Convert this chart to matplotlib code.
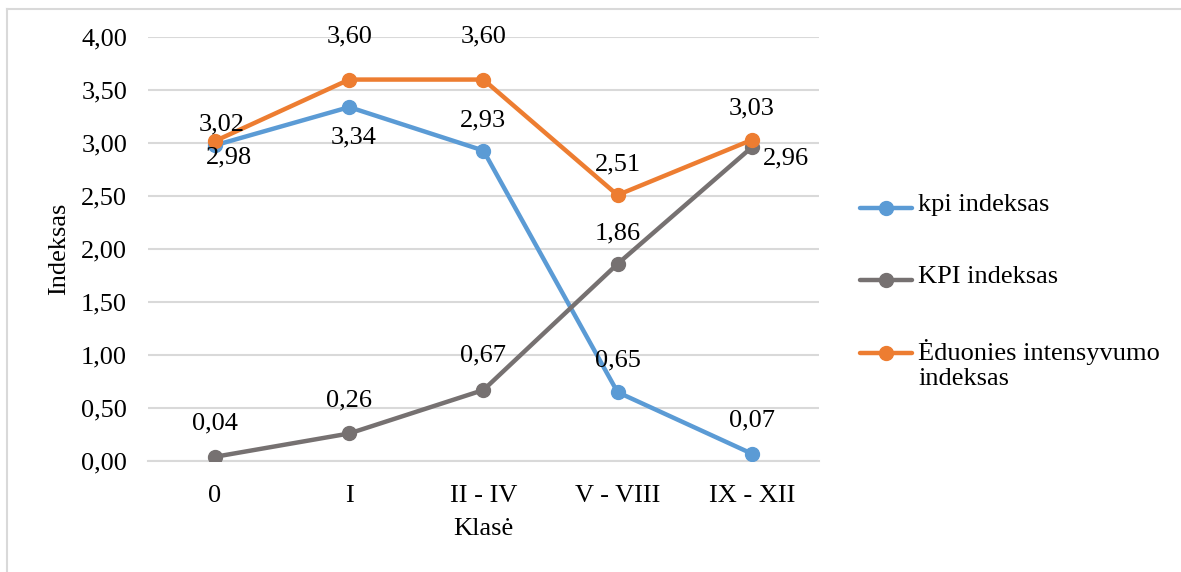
import matplotlib
matplotlib.use("Agg")
import matplotlib.pyplot as plt
from matplotlib.lines import Line2D

plt.rcParams['font.family'] = ['Liberation Serif', 'DejaVu Serif']

# data
classes = ["0", "I", "II - IV", "V - VIII", "IX - XII"]
kpi_small = [2.98, 3.34, 2.93, 0.65, 0.07]
kpi_big = [0.04, 0.26, 0.67, 1.86, 2.96]
eduonies = [3.02, 3.60, 3.60, 2.51, 3.03]
series_names = ["kpi indeksas", "KPI indeksas", "Ėduonies intensyvumo\nindeksas"]

_BLUE = "#5B9BD5"
_GRAY = "#767171"
_ORANGE = "#ED7D31"
_GRID = "#D9D9D9"
FS = 19

# label offsets in points (dx, dy) per series
off_small = [(10, -9), (3, -22), (0, 22), (0, 23), (0, 24)]
off_big = [(0, 24), (0, 24), (0, 25), (0, 22), (25, -8)]
off_edu = [(5, 12), (0, 31), (0, 31), (0, 22), (0, 23)]

fig = plt.figure(figsize=(11.81, 5.72), dpi=100)
ax = fig.add_axes([0.1253, 0.194, 0.568, 0.741])

x = list(range(len(classes)))
series = [(kpi_small, _BLUE, off_small), (kpi_big, _GRAY, off_big), (eduonies, _ORANGE, off_edu)]
for vals, col, offs in series:
    ax.plot(x, vals, color=col, linewidth=3.2, marker='o', markersize=10,
            solid_capstyle='round', zorder=3)
    for xi, v, (dx, dy) in zip(x, vals, offs):
        ax.annotate(f"{v:.2f}".replace('.', ','), (xi, v), xytext=(dx, dy),
                    textcoords='offset points', ha='center', va='center',
                    fontsize=FS, color='black', zorder=4)

ax.set_xlim(-0.5, len(classes) - 0.5)
ax.set_ylim(0, 4.0)
ax.set_yticks([i * 0.5 for i in range(9)])
ax.set_yticklabels([f"{i * 0.5:.2f}".replace('.', ',') for i in range(9)], fontsize=FS)
ax.set_xticks(x)
ax.set_xticklabels(classes, fontsize=FS)
ax.tick_params(axis='y', length=0, pad=15)
ax.tick_params(axis='x', length=0, pad=17)
ax.grid(axis='y', color=_GRID, linewidth=1.5, zorder=0)
for s in ['top', 'right', 'left']:
    ax.spines[s].set_visible(False)
ax.spines['bottom'].set_color(_GRID)
ax.spines['bottom'].set_linewidth(1.5)
ax.set_axisbelow(True)
ax.set_xlabel("Klasė", fontsize=FS, labelpad=8)
ax.set_ylabel("Indeksas", fontsize=FS, labelpad=8)

# legend, drawn by hand so the marker sits on the first text line
W, H = 1181, 572
leg_y = [208, 280, 353]
for name, (vals, col, _), yy in zip(series_names, series, leg_y):
    yf = 1 - yy / H
    fig.add_artist(Line2D([860 / W, 912 / W], [yf, yf], color=col, linewidth=3.2,
                          solid_capstyle='round', transform=fig.transFigure))
    fig.add_artist(Line2D([886 / W], [yf], color=col, marker='o', markersize=10,
                          linestyle='none', transform=fig.transFigure))
    fig.text(918 / W, 1 - (yy - 14) / H, name, fontsize=FS, va='top', ha='left',
             linespacing=1.15)

# outer frame (left and top edges visible)
fig.add_artist(Line2D([7 / W, 7 / W], [0, 1 - 9 / H], color=_GRID, linewidth=1.5))
fig.add_artist(Line2D([7 / W, 1], [1 - 9 / H, 1 - 9 / H], color=_GRID, linewidth=1.5))

fig.savefig("out.png", dpi=100, facecolor='white')
